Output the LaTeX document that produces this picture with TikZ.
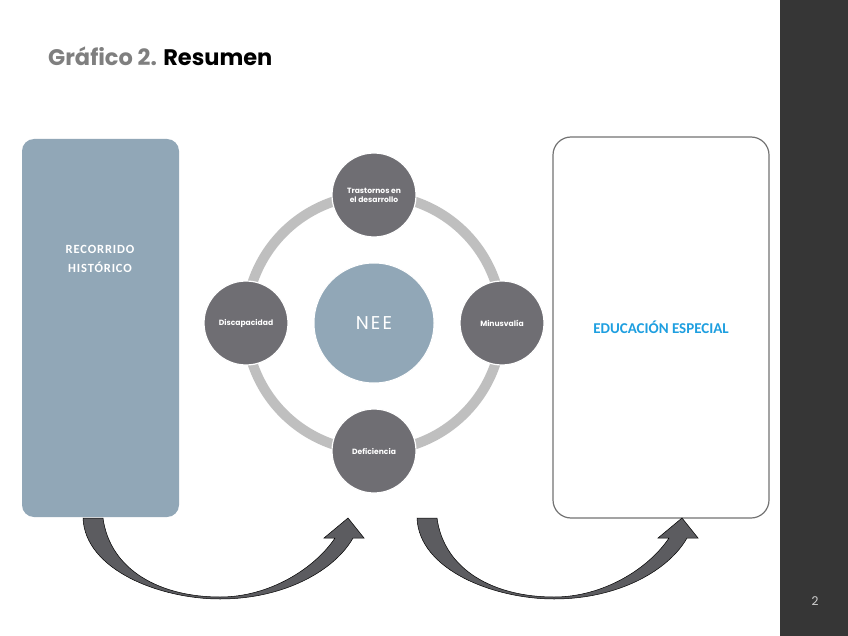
\documentclass[tikz,border=0pt]{standalone}
\usepackage{fontspec}
\setmainfont{Poppins}
\newfontfamily\calfont{Carlito}
\newfontfamily\calspaced[LetterSpace=7]{Carlito}
\newfontfamily\neefont[LetterSpace=12]{Poppins}
\definecolor{bar}{HTML}{363636}
\definecolor{slate}{HTML}{91A7B7}
\definecolor{ringc}{HTML}{BFBFBF}
\definecolor{dark}{HTML}{6F6E73}
\definecolor{titlegray}{HTML}{7F7F7F}
\definecolor{edublue}{HTML}{1E9FE0}
\definecolor{arrowc}{HTML}{5C5C60}
\begin{document}
\begin{tikzpicture}[x=1pt,y=-1pt,
  satellite/.style={circle,fill=dark,draw=white,line width=1.2pt,minimum size=84pt,inner sep=0pt,
    text=white,font=\fontsize{7.6}{9}\bfseries\selectfont,align=center},
  bigarrow/.style={fill=arrowc,draw=black,line width=0.5pt,line join=miter}]
\useasboundingbox (0,0) rectangle (848,636);
\fill[white] (0,0) rectangle (848,636);
% side bar
\fill[bar] (780,0) rectangle (848,636);
\node[text=black!18,font=\fontsize{12}{14}\selectfont] (pnum) at (815,601) {2};
% title
\node[anchor=base west,inner sep=0pt,font=\fontsize{22.5}{26}\bfseries\selectfont] (title) at (48,66)
  {\textcolor{titlegray}{Gráfico 2.} Resumen};
% left box
\node[rectangle,rounded corners=12pt,fill=slate,minimum width=157pt,minimum height=378pt,inner sep=0pt] (left) at (100.5,328) {};
\node[text=white,align=center,font=\calspaced\bfseries\fontsize{12.5}{19.5}\selectfont] (lefttxt) at (100,259) {RECORRIDO\\HISTÓRICO};
% right box
\node[rectangle,rounded corners=18pt,fill=white,draw=black!55,line width=1.2pt,minimum width=216pt,minimum height=381pt,inner sep=0pt,
  text=edublue,font=\calfont\bfseries\fontsize{15}{18}\selectfont] (right) at (661,327.5) {EDUCACIÓN ESPECIAL};
% cycle
\coordinate (c) at (374,323);
\draw[ringc,line width=10pt] (c) circle (128);
\node[circle,fill=slate,draw=white,line width=1pt,minimum size=120pt,inner sep=0pt,text=white,
  font=\neefont\fontsize{18.5}{20}\selectfont] (nee) at (c) {NEE};
\node[satellite] (top) at (374,195) {Trastornos en\\el desarrollo};
\node[satellite] (rgt) at (502,323) {Minusvalía};
\node[satellite] (bot) at (374,451) {Deficiencia};
\node[satellite] (lft) at (246,323) {Discapacidad};
% curved block arrows
\coordinate (a1) at (83,518);
\coordinate (a2) at (417,518);
\draw[bigarrow] (a1) .. controls +(2,52) and +(-60,0) .. ++(137,81)
  .. controls +(65,0) and +(-18,32) .. ++(133,-61) -- ++(11,0) -- ++(-16,-20) -- ++(-24,20) -- ++(11,0)
  .. controls +(-20,30) and +(50,0) .. ++(-115,59)
  .. controls +(-60,0) and +(7,52) .. ++(-117,-79) -- cycle;
\draw[bigarrow] (a2) .. controls +(2,52) and +(-60,0) .. ++(137,81)
  .. controls +(65,0) and +(-18,32) .. ++(133,-61) -- ++(11,0) -- ++(-16,-20) -- ++(-24,20) -- ++(11,0)
  .. controls +(-20,30) and +(50,0) .. ++(-115,59)
  .. controls +(-60,0) and +(7,52) .. ++(-117,-79) -- cycle;
\end{tikzpicture}
\end{document}
